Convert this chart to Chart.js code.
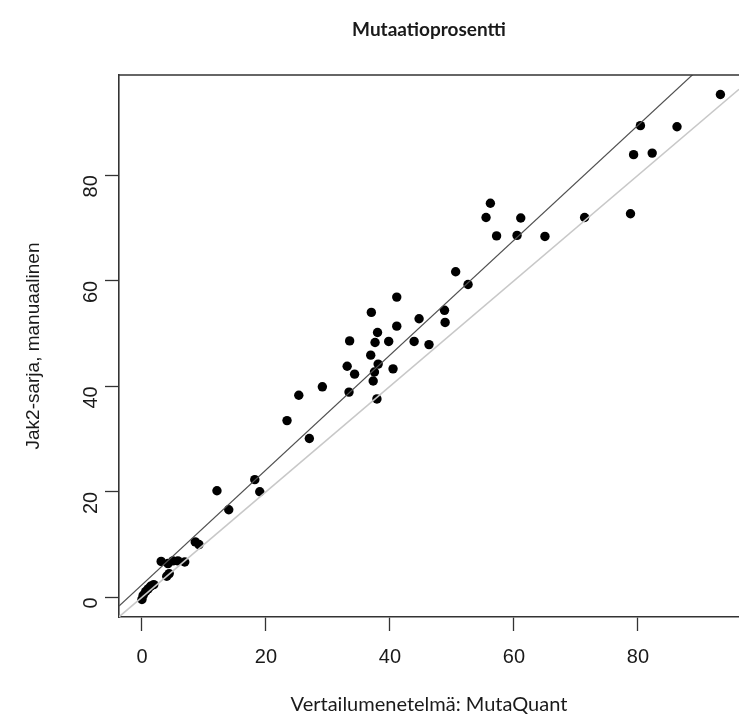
<!DOCTYPE html>
<html>
<head>
<meta charset="utf-8">
<script src="https://cdn.jsdelivr.net/npm/chart.js@4.4.0/dist/chart.umd.min.js"></script>
<style>
  html, body { margin: 0; padding: 0; background: #fff; }
  #wrap { width: 739px; height: 725px; }
</style>
</head>
<body>
<div id="wrap"><canvas id="myChart" width="739" height="725"></canvas></div>
<script>
// MutaQuant (x) vs Jak2 manual series (y), mutation percentages
const refValues = [
    0.0, 0.2, 0.6, 1.0, 1.4, 1.9, 4.0, 4.4, 3.1, 4.2,
    5.0, 5.8, 6.9, 8.6, 9.2, 12.1, 14.0, 18.2, 19.0, 23.4,
    25.3, 27.0, 29.1, 33.1, 33.4, 33.5, 34.3, 36.9, 37.0, 37.3,
    37.5, 37.6, 37.9, 38.0, 38.1, 39.8, 40.5, 41.1, 41.1, 43.9,
    44.7, 46.3, 48.8, 48.9, 50.6, 52.6, 55.5, 56.2, 57.2, 60.5,
    61.1, 65.0, 71.4, 78.8, 79.3, 80.4, 82.3, 86.3, 93.3
];
const jak2Values = [
    -0.4, 0.4, 1.1, 1.6, 2.1, 2.4, 4.0, 4.5, 6.8, 6.4,
    6.9, 6.9, 6.7, 10.5, 10.0, 20.2, 16.6, 22.3, 20.0, 33.5,
    38.3, 30.1, 39.9, 43.8, 38.9, 48.6, 42.3, 45.9, 54.0, 41.0,
    42.7, 48.3, 37.6, 50.2, 44.2, 48.5, 43.3, 56.9, 51.4, 48.5,
    52.8, 47.9, 54.4, 52.1, 61.7, 59.3, 72.0, 74.7, 68.5, 68.6,
    71.9, 68.4, 72.0, 72.7, 83.9, 89.4, 84.2, 89.2, 95.3
];

// reference lines, end points read at the plot edges
const lineX = [-3.7, 96.3];
const fitY = [-1.65, 107.2];     // regression line
const identityY = [-3.7, 96.3];  // y = x

const xTicks = [0, 20, 40, 60, 80];
const yTicks = [0, 20, 40, 60, 80];

const axisColor = '#333';
const textColor = '#1a1a1a';

function toPoints(xs, ys) {
    let pts = [];
    for (let i = 0; i < xs.length; i++)
        pts.push({x: xs[i], y: ys[i]});
    return pts;
}

// top edge of the box round the plot
const boxTop = {
    id: 'boxTop',
    afterDraw(chart) {
        const ctx = chart.ctx;
        const a = chart.chartArea;
        ctx.save();
        ctx.strokeStyle = axisColor;
        ctx.lineWidth = 1.6;
        ctx.beginPath();
        ctx.moveTo(a.left, a.top);
        ctx.lineTo(a.right, a.top);
        ctx.stroke();
        ctx.restore();
    }
};

var canvas = document.getElementById('myChart');
var config = {
    type: 'scatter',
    data: {
        datasets: [
            {
                label: 'fit',
                data: toPoints(lineX, fitY),
                showLine: true,
                borderColor: '#505050',
                borderWidth: 1.2,
                pointRadius: 0,
                order: 0
            },
            {
                label: 'identity',
                data: toPoints(lineX, identityY),
                showLine: true,
                borderColor: '#c8c8c8',
                borderWidth: 1.6,
                pointRadius: 0,
                order: 1
            },
            {
                label: 'samples',
                data: toPoints(refValues, jak2Values),
                backgroundColor: '#000',
                borderColor: '#000',
                borderWidth: 0,
                pointRadius: 4.7,
                order: 2
            }
        ]
    },
    options: {
        responsive: false,
        animation: false,
        layout: { padding: 0, autoPadding: false },
        plugins: {
            legend: { display: false },
            tooltip: { enabled: false },
            title: {
                display: true,
                text: 'Mutaatioprosentti',
                fullSize: false,
                color: textColor,
                font: { family: 'Lato', size: 19, weight: 'bold', lineHeight: 1.2 },
                padding: { top: 18.6, bottom: 33.6 }
            }
        },
        scales: {
            x: {
                type: 'linear',
                min: -3.7,
                max: 96.3,
                afterFit: function(scale) { scale.height = 108; },
                afterBuildTicks: function(scale) { scale.ticks = xTicks.map(v => ({value: v})); },
                ticks: {
                    includeBounds: false,
                    color: textColor,
                    padding: 14,
                    font: { family: 'Liberation Sans', size: 20 }
                },
                grid: {
                    display: true,
                    drawOnChartArea: false,
                    drawTicks: true,
                    tickLength: 14,
                    tickColor: axisColor,
                    tickWidth: 1.3
                },
                border: { display: true, color: axisColor, width: 1.6 },
                title: {
                    display: true,
                    text: 'Vertailumenetelmä: MutaQuant',
                    color: textColor,
                    font: { family: 'Lato', size: 20, lineHeight: 1.2 },
                    padding: { top: 8, bottom: 8 }
                }
            },
            y: {
                type: 'linear',
                min: -3.73,
                max: 99.0,
                afterFit: function(scale) { scale.width = 119; },
                afterBuildTicks: function(scale) { scale.ticks = yTicks.map(v => ({value: v})); },
                ticks: {
                    includeBounds: false,
                    color: textColor,
                    padding: 14,
                    minRotation: 90,
                    maxRotation: 90,
                    font: { family: 'Liberation Sans', size: 20 }
                },
                grid: {
                    display: true,
                    drawOnChartArea: false,
                    drawTicks: true,
                    tickLength: 14,
                    tickColor: axisColor,
                    tickWidth: 1.3
                },
                border: { display: true, color: axisColor, width: 1.6 },
                title: {
                    display: true,
                    text: 'Jak2-sarja, manuaalinen',
                    color: textColor,
                    font: { family: 'Liberation Sans', size: 19, lineHeight: 1.2 },
                    padding: { top: 22, bottom: 4 }
                }
            }
        }
    },
    plugins: [boxTop]
};
myChart = new Chart(canvas, config);
</script>
</body>
</html>
